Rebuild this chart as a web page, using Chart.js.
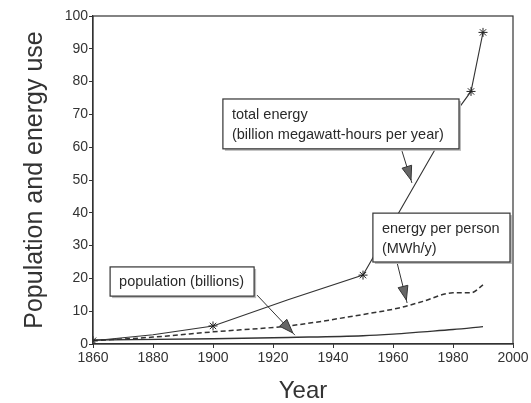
<!DOCTYPE html>
<html><head><meta charset="utf-8">
<script src="https://cdn.jsdelivr.net/npm/chart.js@4/dist/chart.umd.min.js"></script>
<style>html,body{margin:0;padding:0;background:#fff}</style>
</head><body>
<canvas id="c" width="531" height="403" style="width:531px;height:403px;display:block"></canvas>
<script>
// ---- data ----
const totalYears = [1860, 1880, 1900, 1925, 1950, 1982, 1986, 1990];
const totalValues = [1, 2.8, 5.5, 13.5, 21, 72, 77, 95];
const markerYears = [1860, 1900, 1950, 1986, 1990];
const perPersonYears = [1860, 1880, 1900, 1925, 1950, 1962, 1970, 1980, 1986, 1990];
const perPersonValues = [1, 2.1, 3.7, 5.5, 9, 11, 13, 15.6, 15.6, 18];
const popYears = [1860, 1900, 1925, 1950, 1960, 1970, 1980, 1990];
const popValues = [1.2, 1.6, 2.0, 2.5, 3.0, 3.7, 4.4, 5.3];
const xTicks = [1860, 1880, 1900, 1920, 1940, 1960, 1980, 2000];
const yTicks = [0, 10, 20, 30, 40, 50, 60, 70, 80, 90, 100];
const xTitle = 'Year';
const yTitle = 'Population and energy use';

// annotation labels (anchored in data units)
const notes = [
  {lines: ['total energy', '(billion megawatt-hours per year)'], box: [1903.3, 74.7, 1982, 59.5], from: [1963, 58.8], to: [1966.3, 49.1]},
  {lines: ['energy per person', '(MWh/y)'], box: [1953.3, 39.9, 1999, 25], from: [1961.3, 25], to: [1964.7, 12.5]},
  {lines: ['population (billions)'], box: [1865.7, 23.5, 1913.7, 14.6], from: [1914.7, 14.9], to: [1927.3, 2.7]}
];

const FONT = '"Liberation Sans", Arial, Helvetica, sans-serif';
const INK = '#2a2a2a';

const zip = (xs, ys) => xs.map((x, i) => ({x: x, y: ys[i]}));

const framePlugin = {
  id: 'frame',
  afterDatasetsDraw(chart) {
    const {ctx, chartArea: a, scales: {x, y}} = chart;
    ctx.save();
    ctx.strokeStyle = '#333';
    ctx.lineWidth = 1.2;
    ctx.strokeRect(a.left, a.top, a.right - a.left, a.bottom - a.top);
    ctx.font = '14.5px ' + FONT;
    ctx.textBaseline = 'middle';
    notes.forEach(n => {
      const x1 = x.getPixelForValue(n.box[0]), y1 = y.getPixelForValue(n.box[1]);
      const x2 = x.getPixelForValue(n.box[2]), y2 = y.getPixelForValue(n.box[3]);
      // arrow
      const ax = x.getPixelForValue(n.from[0]), ay = y.getPixelForValue(n.from[1]);
      const bx = x.getPixelForValue(n.to[0]), by = y.getPixelForValue(n.to[1]);
      ctx.strokeStyle = '#333'; ctx.lineWidth = 1;
      ctx.beginPath(); ctx.moveTo(ax, ay); ctx.lineTo(bx, by); ctx.stroke();
      const ang = Math.atan2(by - ay, bx - ax), L = 14, W = 5;
      const tx = bx - 3 * Math.cos(ang), ty = by - 3 * Math.sin(ang);
      const hx = tx - L * Math.cos(ang), hy = ty - L * Math.sin(ang);
      ctx.beginPath();
      ctx.moveTo(tx, ty);
      ctx.lineTo(hx + W * Math.sin(ang), hy - W * Math.cos(ang));
      ctx.lineTo(hx - W * Math.sin(ang), hy + W * Math.cos(ang));
      ctx.closePath();
      ctx.fillStyle = '#666'; ctx.fill(); ctx.stroke();
      // box with slight shadow
      ctx.fillStyle = '#bbb';
      ctx.fillRect(x1 + 2, y1 + 2, x2 - x1, y2 - y1);
      ctx.fillStyle = '#fff';
      ctx.fillRect(x1, y1, x2 - x1, y2 - y1);
      ctx.strokeStyle = '#333'; ctx.lineWidth = 1.2;
      ctx.strokeRect(x1, y1, x2 - x1, y2 - y1);
      ctx.fillStyle = INK;
      const h = y2 - y1;
      n.lines.forEach((t, i) => {
        const cy = n.lines.length === 1 ? y1 + h / 2 : y1 + 16 + i * 20;
        ctx.fillText(t, x1 + 9, cy);
      });
    });
    ctx.restore();
  }
};

new Chart(document.getElementById('c'), {
  type: 'line',
  data: {
    datasets: [
      {label: 'total energy', data: zip(totalYears, totalValues), borderColor: '#333', borderWidth: 1.1,
       pointStyle: 'star', pointRadius: c => markerYears.includes(c.raw && c.raw.x) ? 4.5 : 0,
       pointBorderColor: '#222', pointBorderWidth: 1, tension: 0, fill: false},
      {label: 'energy per person', data: zip(perPersonYears, perPersonValues), borderColor: '#333', borderWidth: 1.5,
       borderDash: [5, 3], pointRadius: 0, cubicInterpolationMode: 'monotone', fill: false},
      {label: 'population', data: zip(popYears, popValues), borderColor: '#333', borderWidth: 1.4,
       pointRadius: 0, cubicInterpolationMode: 'monotone', fill: false}
    ]
  },
  options: {
    responsive: false,
    animation: false,
    events: [],
    layout: {padding: {top: 16, right: 18, left: 0, bottom: 0}},
    plugins: {legend: {display: false}, tooltip: {enabled: false}},
    scales: {
      x: {
        type: 'linear', min: 1860, max: 2000,
        afterBuildTicks: s => { s.ticks = xTicks.map(v => ({value: v})); },
        afterFit: s => { s.height = 59; },
        ticks: {color: '#333', font: {family: FONT, size: 14}, padding: 2, callback: v => String(v), maxRotation: 0},
        grid: {drawOnChartArea: false, drawTicks: true, tickLength: 4, color: '#333'},
        border: {display: true, color: '#333', width: 1.2},
        title: {display: true, text: xTitle, color: '#333', font: {family: FONT, size: 24, lineHeight: 1}, padding: {top: 0, bottom: 0}}
      },
      y: {
        type: 'linear', min: 0, max: 100,
        afterBuildTicks: s => { s.ticks = yTicks.map(v => ({value: v})); },
        afterFit: s => { s.width = 93; },
        ticks: {color: '#333', font: {family: FONT, size: 14}, padding: 1, callback: v => String(v)},
        grid: {drawOnChartArea: false, drawTicks: true, tickLength: 4, color: '#333'},
        border: {display: true, color: '#333', width: 1.2},
        title: {display: true, text: yTitle, color: '#333', font: {family: FONT, size: 25, lineHeight: 1}, padding: {top: 23, bottom: 0}}
      }
    }
  },
  plugins: [framePlugin]
});
</script>
</body></html>
